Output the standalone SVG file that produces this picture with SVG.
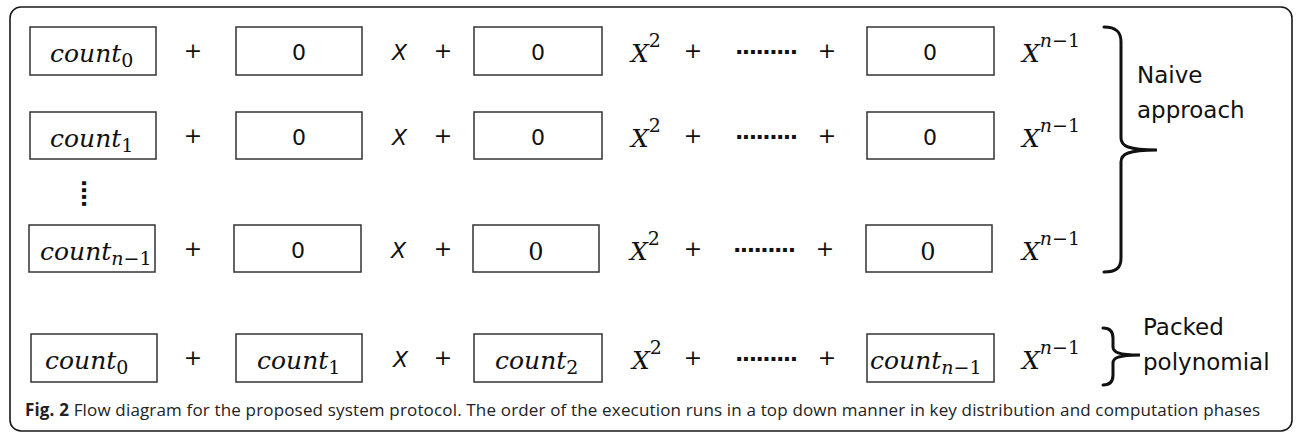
<svg xmlns="http://www.w3.org/2000/svg" width="1296" height="434" viewBox="0 0 1296 434">
<style>
.frame{fill:none;stroke:#1a1a1a;stroke-width:1.6}
.box{fill:#fff;stroke:#333;stroke-width:1.5}
.m{font-family:"DejaVu Serif",serif;font-style:italic;font-size:25px;fill:#111}
.up{font-style:normal}
.sub{font-size:19px}
.s{font-family:"DejaVu Sans",sans-serif;font-size:22px;fill:#111}
.dots{font-family:"DejaVu Sans",sans-serif;font-size:22px;font-weight:bold;fill:#111}
.sx{font-family:"DejaVu Sans",sans-serif;font-style:italic;font-size:22px;fill:#111}
.z{font-family:"DejaVu Serif",serif;font-size:24px;fill:#111}
.lbl{font-family:"DejaVu Sans",sans-serif;font-size:23px;fill:#111}
.cap{font-family:"Open Sans",sans-serif;font-size:17px;fill:#222}
.brace{fill:none;stroke:#111;stroke-width:3;stroke-linecap:round}
</style>
<rect class="frame" x="10" y="7" width="1282" height="424" rx="11"/>

<g id="row1">
<rect class="box" x="30" y="27" width="126" height="48"/>
<text class="m" x="50" y="62">count<tspan class="up sub" dy="5">0</tspan></text>
<text class="s" x="193" y="58" text-anchor="middle">+</text>
<rect class="box" x="236" y="27" width="126" height="48"/>
<text class="s" x="299" y="60" text-anchor="middle">0</text>
<text class="sx" x="392" y="60">X</text>
<text class="s" x="443" y="58" text-anchor="middle">+</text>
<rect class="box" x="474" y="27" width="128" height="48"/>
<text class="s" x="538" y="60" text-anchor="middle">0</text>
<text class="m" x="631" y="62">X<tspan class="up sub" dy="-15">2</tspan></text>
<text class="s" x="693" y="58" text-anchor="middle">+</text>
<text class="dots" x="735" y="54" textLength="63" lengthAdjust="spacing">.........</text>
<text class="s" x="827" y="58" text-anchor="middle">+</text>
<rect class="box" x="867" y="27" width="127" height="48"/>
<text class="s" x="930" y="60" text-anchor="middle">0</text>
<text class="m" x="1022" y="62">X<tspan class="sub" dy="-15">n</tspan><tspan class="up sub">−1</tspan></text>
</g>

<g id="row2">
<rect class="box" x="30" y="112" width="126" height="47"/>
<text class="m" x="50" y="147">count<tspan class="up sub" dy="5">1</tspan></text>
<text class="s" x="193" y="143" text-anchor="middle">+</text>
<rect class="box" x="236" y="112" width="126" height="47"/>
<text class="s" x="299" y="145" text-anchor="middle">0</text>
<text class="sx" x="392" y="145">X</text>
<text class="s" x="443" y="143" text-anchor="middle">+</text>
<rect class="box" x="474" y="112" width="128" height="47"/>
<text class="s" x="538" y="145" text-anchor="middle">0</text>
<text class="m" x="631" y="147">X<tspan class="up sub" dy="-15">2</tspan></text>
<text class="s" x="693" y="143" text-anchor="middle">+</text>
<text class="dots" x="735" y="139" textLength="63" lengthAdjust="spacing">.........</text>
<text class="s" x="827" y="143" text-anchor="middle">+</text>
<rect class="box" x="867" y="112" width="127" height="47"/>
<text class="s" x="930" y="145" text-anchor="middle">0</text>
<text class="m" x="1022" y="147">X<tspan class="sub" dy="-15">n</tspan><tspan class="up sub">−1</tspan></text>
</g>

<g id="vdots">
<text class="dots" x="0" y="0" transform="translate(82,179) rotate(90)" textLength="29" lengthAdjust="spacing">....</text>
</g>

<g id="row3">
<rect class="box" x="29" y="225" width="126" height="47"/>
<text class="m" x="40" y="260">count<tspan class="sub" dy="5">n</tspan><tspan class="up sub">−1</tspan></text>
<text class="s" x="193" y="256" text-anchor="middle">+</text>
<rect class="box" x="234" y="225" width="127" height="47"/>
<text class="s" x="298" y="258" text-anchor="middle">0</text>
<text class="sx" x="391" y="258">X</text>
<text class="s" x="443" y="256" text-anchor="middle">+</text>
<rect class="box" x="473" y="225" width="126" height="47"/>
<text class="z" x="536" y="260" text-anchor="middle">0</text>
<text class="m" x="630" y="260">X<tspan class="up sub" dy="-15">2</tspan></text>
<text class="s" x="693" y="256" text-anchor="middle">+</text>
<text class="dots" x="733" y="252" textLength="63" lengthAdjust="spacing">.........</text>
<text class="s" x="825" y="256" text-anchor="middle">+</text>
<rect class="box" x="866" y="225" width="126" height="47"/>
<text class="z" x="928" y="260" text-anchor="middle">0</text>
<text class="m" x="1022" y="260">X<tspan class="sub" dy="-15">n</tspan><tspan class="up sub">−1</tspan></text>
</g>

<g id="row4">
<rect class="box" x="31" y="334" width="126" height="48"/>
<text class="m" x="45" y="369">count<tspan class="up sub" dy="5">0</tspan></text>
<text class="s" x="193" y="365" text-anchor="middle">+</text>
<rect class="box" x="236" y="334" width="126" height="48"/>
<text class="m" x="257" y="369">count<tspan class="up sub" dy="5">1</tspan></text>
<text class="sx" x="393" y="367">X</text>
<text class="s" x="443" y="365" text-anchor="middle">+</text>
<rect class="box" x="474" y="334" width="128" height="48"/>
<text class="m" x="495" y="369">count<tspan class="up sub" dy="5">2</tspan></text>
<text class="m" x="632" y="369">X<tspan class="up sub" dy="-15">2</tspan></text>
<text class="s" x="693" y="365" text-anchor="middle">+</text>
<text class="dots" x="735" y="361" textLength="63" lengthAdjust="spacing">.........</text>
<text class="s" x="827" y="365" text-anchor="middle">+</text>
<rect class="box" x="867" y="334" width="127" height="48"/>
<text class="m" x="870" y="369">count<tspan class="sub" dy="5">n</tspan><tspan class="up sub">−1</tspan></text>
<text class="m" x="1022" y="369">X<tspan class="sub" dy="-15">n</tspan><tspan class="up sub">−1</tspan></text>
</g>

<g id="connectors">
<path class="brace" d="M1104,27 C1116,27 1121,32 1121,42 L1121,138 C1121,146 1128,150 1157,150 C1128,150 1121,154 1121,162 L1121,258 C1121,268 1116,272 1104,272"/>
<path class="brace" d="M1103,328 C1110,328 1113,332 1113,338 L1113,347 C1113,352 1118,355 1140,355 C1118,355 1113,358 1113,363 L1113,375 C1113,381 1110,385 1103,385"/>
</g>

<g id="naive">
<text class="lbl" x="1137" y="83">Naive</text>
<text class="lbl" x="1137" y="118">approach</text>
</g>
<g id="packed">
<text class="lbl" x="1143" y="335">Packed</text>
<text class="lbl" x="1143" y="370">polynomial</text>
</g>

<text class="cap" x="25" y="416" textLength="1235" lengthAdjust="spacing"><tspan font-weight="bold">Fig. 2</tspan> Flow diagram for the proposed system protocol. The order of the execution runs in a top down manner in key distribution and computation phases</text>
</svg>
